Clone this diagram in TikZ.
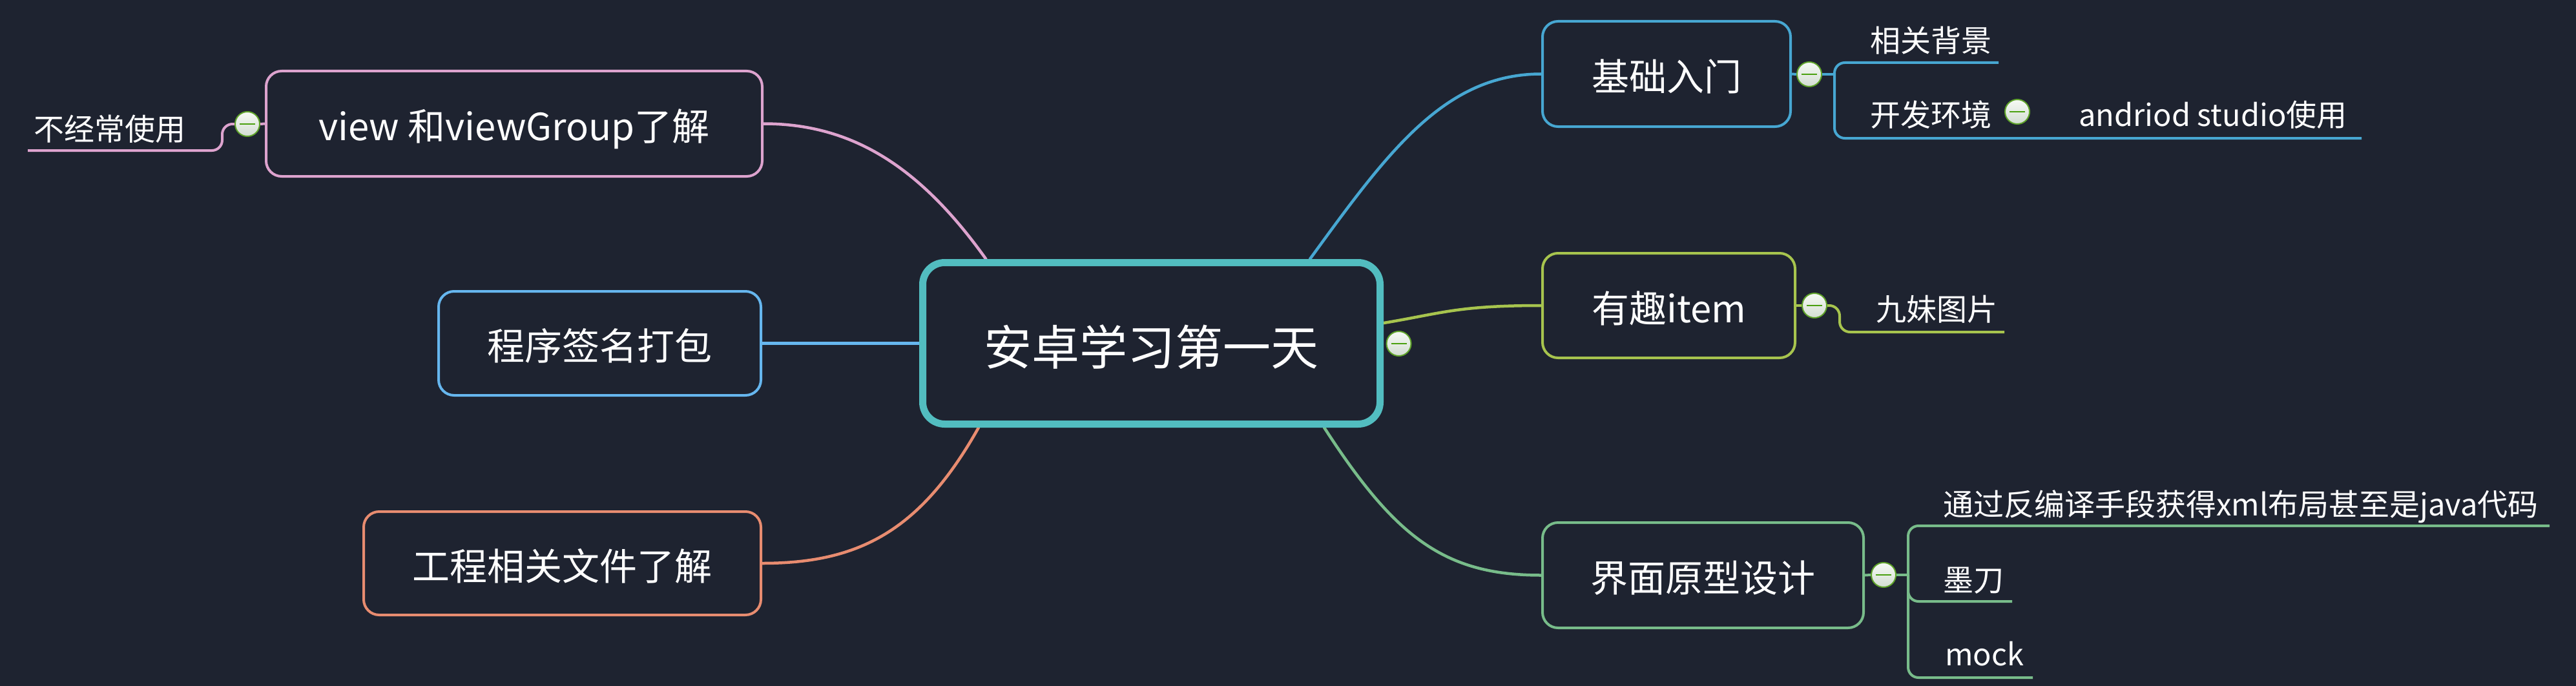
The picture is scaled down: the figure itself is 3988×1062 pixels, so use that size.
\documentclass[tikz,border=0pt]{standalone}
\usepackage{fontspec}
\setmainfont{Noto Sans CJK SC}
\usetikzlibrary{backgrounds,calc}
\definecolor{bg}{HTML}{1E2330}
\definecolor{cteal}{HTML}{52BDC0}
\definecolor{cblue}{HTML}{47A7D2}
\definecolor{cygreen}{HTML}{A7C44E}
\definecolor{cgreen}{HTML}{78BC8A}
\definecolor{cpink}{HTML}{DDA3CE}
\definecolor{clblue}{HTML}{66B6EE}
\definecolor{csalmon}{HTML}{E88C70}
\definecolor{btnborder}{HTML}{5FA32A}
\definecolor{btnminus}{HTML}{4AA010}
\definecolor{btntop}{HTML}{F6FAF4}
\definecolor{btnbot}{HTML}{D3DDD3}
\tikzset{
  topic/.style={draw, fill=bg, text=white, rounded corners=24pt, line width=4pt,
    inner sep=0pt, font=\fontsize{58}{70}\selectfont, text height=52pt, text depth=0pt},
  roottopic/.style={topic, line width=11pt, rounded corners=34pt, font=\fontsize{74}{88}\selectfont,
    text height=67pt},
  subtext/.style={text=white, inner sep=0pt, anchor=west, font=\fontsize{47}{56}\selectfont,
    text height=42pt, text depth=0pt},
  fold/.style={circle, draw=btnborder, line width=2pt, minimum size=38pt, inner sep=0pt,
    top color=btntop, bottom color=btnbot,
    path picture={\draw[btnminus, line width=1.6pt]
      ([xshift=-12pt]path picture bounding box.center) -- ([xshift=12pt]path picture bounding box.center);}},
  branch/.style={line width=4.5pt, line cap=round},
  subline/.style={line width=4pt, rounded corners=16pt},
}
\begin{document}
\begin{tikzpicture}[x=1pt,y=-1pt]
\useasboundingbox (0,0) rectangle (3988,1062);

% main topics
\node[roottopic, draw=cteal, minimum width=708pt, minimum height=250pt] (root) at (1782.5,531.5) {安卓学习第一天};
\node[topic, draw=cblue, minimum width=384pt, minimum height=163pt] (t1) at (2580,114.5) {基础入门};
\node[topic, draw=cygreen, minimum width=391pt, minimum height=162pt] (t2) at (2583.5,473) {有趣item};
\node[topic, draw=cgreen, minimum width=497pt, minimum height=163pt] (t3) at (2636.5,890.5) {界面原型设计};
\node[topic, draw=cpink, minimum width=768pt, minimum height=163pt] (t4) at (796,191.5) {view 和viewGroup了解};
\node[topic, draw=clblue, minimum width=499pt, minimum height=161pt] (t5) at (928.5,531.5) {程序签名打包};
\node[topic, draw=csalmon, minimum width=615pt, minimum height=160pt] (t6) at (870.5,872) {工程相关文件了解};

% fold buttons
\node[fold] (f0) at (2165.5,532) {};
\node[fold] (f1) at (2801,115) {};
\node[fold] (f11) at (3123,173) {};
\node[fold] (f2) at (2809,473) {};
\node[fold] (f3) at (2916,890) {};
\node[fold] (f4) at (383,192) {};

% subtopic texts
\node[subtext] (s11) at (2895,59.5) {相关背景};
\node[subtext] (s12) at (2895,174.5) {开发环境};
\node[subtext] (s121) at (3218,174.5) {andriod studio使用};
\node[subtext] (s21) at (2904,475.5) {九妹图片};
\node[subtext] (s31) at (3008,777) {通过反编译手段获得xml布局甚至是java代码};
\node[subtext] (s32) at (3008,894.5) {墨刀};
\node[subtext] (s33) at (3011,1009) {mock};
\node[subtext] (s41) at (52,196) {不经常使用};

% bend and underline coordinates
\coordinate (b1) at (2840,115);
\coordinate (b1bot) at (2840,214);
\coordinate (u11) at (3094,97);
\coordinate (u12) at (3656,214);
\coordinate (b2) at (2848,514);
\coordinate (u21) at (3103,514);
\coordinate (b3) at (2954,890);
\coordinate (b3bot) at (2954,1049);
\coordinate (u31) at (3947,814);
\coordinate (u32) at (3115,931);
\coordinate (u33) at (3147,1049);
\coordinate (b4) at (344,233);
\coordinate (u41) at (43,233);

\begin{pgfonlayer}{background}
\fill[bg] (0,0) rectangle (3988,1062);
% main branches
\draw[branch, cblue] (root.28.6) .. controls +(120,-165) and +(-150,0) .. (t1.west);
\draw[branch, cygreen] (root.5.6) .. controls +(90,-15) and +(-130,0) .. (t2.west);
\draw[branch, cgreen] (root.-26.7) .. controls +(110,170) and +(-150,0) .. (t3.west);
\draw[branch, cpink] (t4.east) .. controls +(140,0) and +(-100,-140) .. (root.153.7);
\draw[branch, clblue] (t5.east) -- (root.west);
\draw[branch, csalmon] (t6.east) .. controls +(150,0) and +(-90,160) .. (root.206.2);
% sub branches
\draw[subline, cblue] (t1.east) -- (f1.west);
\draw[subline, cblue] (f1.east) -- (b1);
\draw[subline, cblue] (u11) -| (b1bot) -- (u12);
\draw[subline, cygreen] (t2.east) -- (f2.west);
\draw[subline, cygreen] (f2.east) -| (b2) -- (u21);
\draw[subline, cgreen] (t3.east) -- (f3.west);
\draw[subline, cgreen] (f3.east) -- (b3);
\draw[subline, cgreen] (u31) -| (b3bot) -- (u33);
\draw[subline, cgreen] (b3) |- (u32);
\draw[subline, cpink] (t4.west) -- (f4.east);
\draw[subline, cpink] (f4.west) -| (b4) -- (u41);
\end{pgfonlayer}
\end{tikzpicture}
\end{document}
